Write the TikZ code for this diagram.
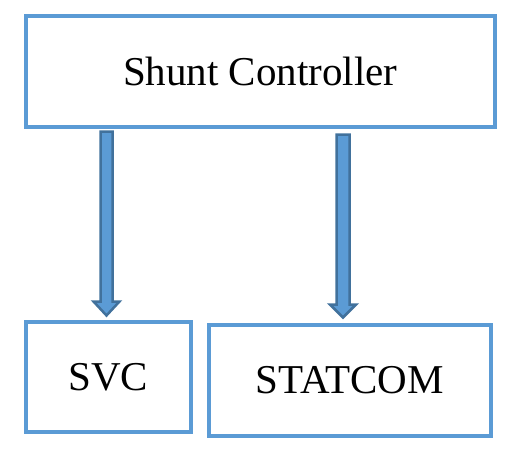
\documentclass[tikz,border=0pt]{standalone}
\usepackage{fontspec}
\setmainfont{Liberation Serif}
\usetikzlibrary{calc}
\definecolor{boxblue}{HTML}{5B9BD5}
\definecolor{arrowdark}{HTML}{41719C}
\begin{document}
\begin{tikzpicture}[x=1pt,y=-1pt,
  blockbox/.style={draw=boxblue, line width=4pt, fill=white, inner sep=0pt,
    font=\fontsize{41}{48}\selectfont},
  fatarrow/.style={fill=boxblue, draw=arrowdark, line width=2.5pt, line join=miter}]
\useasboundingbox (0,0) rectangle (523,458);
\node[blockbox, minimum width=468.5pt, minimum height=111pt] (top) at (260.25,71.5) {Shunt Controller};
\node[blockbox, minimum width=164.5pt, minimum height=110.3pt] (svc) at (108.25,376.85) {SVC};
\node[blockbox, minimum width=281.5pt, minimum height=111.3pt] (statcom) at (349.75,380.35) {STATCOM};
% arrow to SVC
\coordinate (a1s) at (106.5,131.5);
\coordinate (a1e) at (106.5,315.5);
\draw[fatarrow] ($(a1s)+(-6,0)$) -- ($(a1s)+(6,0)$) -- ($(a1e)+(6,-14)$) -- ($(a1e)+(13,-14)$)
  -- (a1e) -- ($(a1e)+(-13,-14)$) -- ($(a1e)+(-6,-14)$) -- cycle;
% arrow to STATCOM
\coordinate (a2s) at (343,134.5);
\coordinate (a2e) at (343,317.5);
\draw[fatarrow] ($(a2s)+(-6.5,0)$) -- ($(a2s)+(6.5,0)$) -- ($(a2e)+(6.5,-13)$) -- ($(a2e)+(13,-13)$)
  -- (a2e) -- ($(a2e)+(-13,-13)$) -- ($(a2e)+(-6.5,-13)$) -- cycle;
\end{tikzpicture}
\end{document}
